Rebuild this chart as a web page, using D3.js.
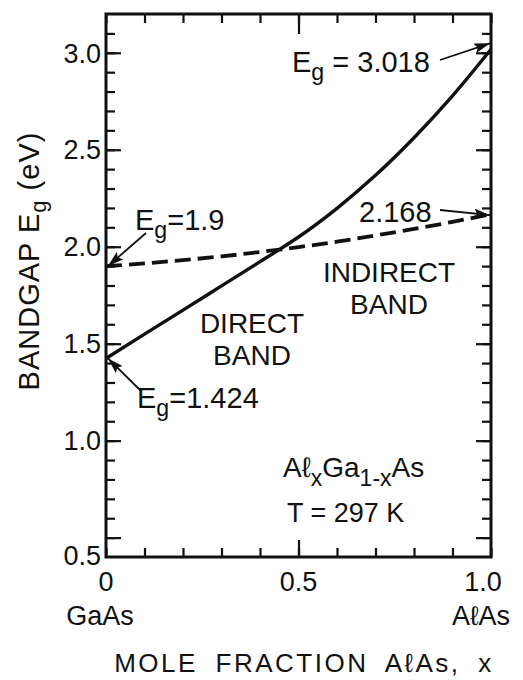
<!DOCTYPE html>
<html>
<head>
<meta charset="utf-8">
<script src="https://cdn.jsdelivr.net/npm/d3@7"></script>
<style>
  body { margin: 0; background: #fff; }
  svg text { font-family: "Liberation Sans", "DejaVu Sans", sans-serif; fill: #111; }
  .tick line { stroke: #111; stroke-width: 2.2; }
  .domain { display: none; }
</style>
</head>
<body>
<div id="chart"></div>
<script>
////////////////////////////////////////////////////////////
//////////////////////// Data //////////////////////////////
////////////////////////////////////////////////////////////

// mole fraction x of AlAs
var moleFraction = [0, 0.1, 0.2, 0.3, 0.4, 0.45, 0.5, 0.6, 0.7, 0.8, 0.9, 1.0];
// direct band gap (eV), solid line
var directGap = [1.424, 1.549, 1.673, 1.798, 1.923, 1.985, 2.050, 2.198, 2.368, 2.562, 2.778, 3.018];
// indirect band gap (eV), dashed line
var indirectGap = [1.900, 1.914, 1.931, 1.950, 1.973, 1.985, 1.998, 2.026, 2.058, 2.092, 2.128, 2.168];

var yTickValues = [0.5, 1.0, 1.5, 2.0, 2.5, 3.0];
var yTickLabels = ["0.5", "1.0", "1.5", "2.0", "2.5", "3.0"];
var xTickValues = [0, 0.5, 1.0];
var xTickLabels = ["0", "0.5", "1.0"];
var xEndLabels = ["GaAs", "AℓAs"];

////////////////////////////////////////////////////////////
/////////////////////// Set-up /////////////////////////////
////////////////////////////////////////////////////////////

var width = 523, height = 680;
var plotLeft = 106, plotRight = 491, plotTop = 14, plotBottom = 557;

var svg = d3.select("#chart").append("svg")
	.attr("width", width)
	.attr("height", height);

var x = d3.scaleLinear().domain([0, 1]).range([plotLeft, plotRight]);
var y = d3.scaleLinear().domain([0.4, 3.2]).range([plotBottom, plotTop]);

var xMinor = d3.range(0, 11).map(function(d) { return d / 10; });
var yMinor = d3.range(5, 32).map(function(d) { return d / 10; });

var defs = svg.append("defs");
defs.append("marker")
	.attr("id", "arrow")
	.attr("viewBox", "0 0 16 10")
	.attr("refX", 16)
	.attr("refY", 5)
	.attr("markerWidth", 16)
	.attr("markerHeight", 10)
	.attr("markerUnits", "userSpaceOnUse")
	.attr("orient", "auto")
	.append("path")
	.attr("d", "M0,0L16,5L0,10L3,5Z")
	.style("fill", "#111");

////////////////////////////////////////////////////////////
//////////////////////// Axes //////////////////////////////
////////////////////////////////////////////////////////////

//Inward ticks on all four sides, minor then major
function addTicks(axis, tx, ty) {
	svg.append("g")
		.attr("transform", "translate(" + tx + "," + ty + ")")
		.call(axis);
}

addTicks(d3.axisLeft(y).tickValues(yMinor).tickSize(-9).tickFormat(""), plotLeft, 0);
addTicks(d3.axisLeft(y).tickValues(yTickValues).tickSize(-15).tickFormat(""), plotLeft, 0);
addTicks(d3.axisRight(y).tickValues(yMinor).tickSize(-9).tickFormat(""), plotRight, 0);
addTicks(d3.axisRight(y).tickValues(yTickValues).tickSize(-15).tickFormat(""), plotRight, 0);
addTicks(d3.axisBottom(x).tickValues(xMinor).tickSize(-9).tickFormat(""), 0, plotBottom);
addTicks(d3.axisBottom(x).tickValues([0.5]).tickSize(-17).tickFormat(""), 0, plotBottom);
addTicks(d3.axisTop(x).tickValues(xMinor).tickSize(-9).tickFormat(""), 0, plotTop);
addTicks(d3.axisTop(x).tickValues([0.5]).tickSize(-20).tickFormat(""), 0, plotTop);

//Frame
svg.append("rect")
	.attr("x", plotLeft)
	.attr("y", plotTop)
	.attr("width", plotRight - plotLeft)
	.attr("height", plotBottom - plotTop)
	.style("fill", "none")
	.style("stroke", "#111")
	.style("stroke-width", 3);

//Y tick labels (0.5 sits down at the corner)
svg.selectAll(".y-label")
	.data(yTickValues)
	.enter().append("text")
	.attr("class", "y-label")
	.attr("x", 101)
	.attr("y", function(d) { return y(d) + (d === 0.5 ? 18 : 0); })
	.attr("dy", "0.36em")
	.style("text-anchor", "end")
	.style("font-size", "27px")
	.text(function(d, i) { return yTickLabels[i]; });

//X tick labels
svg.selectAll(".x-label")
	.data(xTickValues)
	.enter().append("text")
	.attr("class", "x-label")
	.attr("x", function(d) { return x(d) + (d === 1 ? -8 : 0); })
	.attr("y", 591)
	.style("text-anchor", "middle")
	.style("font-size", "27px")
	.text(function(d, i) { return xTickLabels[i]; });

svg.selectAll(".x-end-label")
	.data(xEndLabels)
	.enter().append("text")
	.attr("x", function(d, i) { return i === 0 ? 100 : 481; })
	.attr("y", 625)
	.style("text-anchor", "middle")
	.style("font-size", "27px")
	.text(function(d) { return d; });

//Axis titles
svg.append("text")
	.attr("x", 304)
	.attr("y", 672)
	.style("text-anchor", "middle")
	.style("font-size", "26px")
	.style("letter-spacing", "2.5px")
	.style("word-spacing", "8px")
	.text("MOLE FRACTION AℓAs, x");

var yTitle = svg.append("text")
	.attr("transform", "translate(39,261)rotate(-90)")
	.style("text-anchor", "middle")
	.style("font-size", "29px")
	.style("letter-spacing", "1px");
yTitle.append("tspan").text("BANDGAP  E");
yTitle.append("tspan").attr("dy", 7).style("font-size", "22px").text("g");
yTitle.append("tspan").attr("dy", -7).text(" (eV)");

////////////////////////////////////////////////////////////
/////////////////////// Curves /////////////////////////////
////////////////////////////////////////////////////////////

var line = d3.line()
	.x(function(d) { return x(d[0]); })
	.y(function(d) { return y(d[1]); })
	.curve(d3.curveMonotoneX);

svg.append("path")
	.datum(d3.zip(moleFraction, directGap))
	.attr("d", line)
	.style("fill", "none")
	.style("stroke", "#111")
	.style("stroke-width", 3.4);

svg.append("path")
	.datum(d3.zip(moleFraction, indirectGap))
	.attr("d", line)
	.style("fill", "none")
	.style("stroke", "#111")
	.style("stroke-width", 3.8)
	.style("stroke-dasharray", "16,7");

////////////////////////////////////////////////////////////
///////////////////// Annotations //////////////////////////
////////////////////////////////////////////////////////////

function egLabel(tx, ty, value, size) {
	var t = svg.append("text")
		.attr("x", tx)
		.attr("y", ty)
		.style("font-size", size + "px");
	t.append("tspan").text("E");
	t.append("tspan").attr("dy", 8).style("font-size", (size * 0.8) + "px").text("g");
	t.append("tspan").attr("dy", -8).text(value);
}

function arrow(x1, y1, x2, y2) {
	svg.append("line")
		.attr("x1", x1).attr("y1", y1)
		.attr("x2", x2).attr("y2", y2)
		.style("stroke", "#111")
		.style("stroke-width", 1.8)
		.attr("marker-end", "url(#arrow)");
}

egLabel(292, 72, " = 3.018", 29);
arrow(440, 60, x(1) - 1, y(directGap[directGap.length - 1]) - 6);

egLabel(135, 230, "=1.9", 29);
arrow(146, 233, x(0) + 2, y(indirectGap[0]));

egLabel(137, 408, "=1.424", 29);
arrow(141, 391, x(0) + 2, y(directGap[0]));

svg.append("text")
	.attr("x", 359)
	.attr("y", 222)
	.style("font-size", "29px")
	.text("2.168");
arrow(440, 210, x(1) - 1, y(indirectGap[indirectGap.length - 1]) + 1);

//Band names
var bandText = [
	{ lines: ["DIRECT", "BAND"], cx: 252, y0: 333 },
	{ lines: ["INDIRECT", "BAND"], cx: 389, y0: 282 }
];
bandText.forEach(function(b) {
	svg.selectAll(null)
		.data(b.lines)
		.enter().append("text")
		.attr("x", b.cx)
		.attr("y", function(d, i) { return b.y0 + i * 32; })
		.style("text-anchor", "middle")
		.style("font-size", "28px")
		.text(function(d) { return d; });
});

//Compound and temperature
var comp = svg.append("text")
	.attr("x", 283)
	.attr("y", 477)
	.style("font-size", "28px");
comp.append("tspan").text("Aℓ");
comp.append("tspan").attr("dy", 9).style("font-size", "23px").text("x");
comp.append("tspan").attr("dy", -9).text("Ga");
comp.append("tspan").attr("dy", 9).style("font-size", "23px").text("1-x");
comp.append("tspan").attr("dy", -9).text("As");

svg.append("text")
	.attr("x", 287)
	.attr("y", 522)
	.style("font-size", "27px")
	.text("T = 297 K");
</script>
</body>
</html>
